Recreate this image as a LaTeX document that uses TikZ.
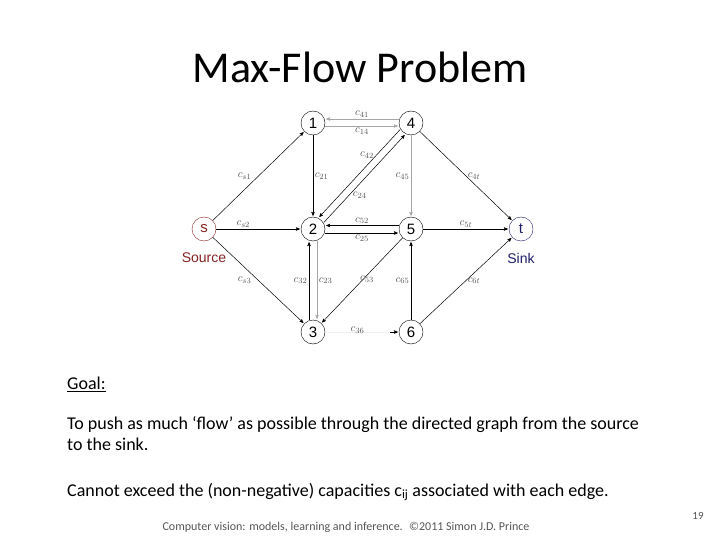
\documentclass[tikz,border=0pt]{standalone}
\usepackage{amsmath}
\usepackage{fontspec}
\setmainfont{Carlito}
\newfontfamily\arialfont{Liberation Sans}
\usetikzlibrary{positioning, arrows}

\definecolor{srcred}{RGB}{135,35,35}
\definecolor{sinkblue}{RGB}{30,30,105}
\definecolor{lblgray}{RGB}{85,85,85}

\begin{document}
\begin{tikzpicture}[x=1pt, y=-1pt, >=stealth', shorten >=1pt, on grid,
    vtx/.style={circle, draw, thin, minimum size=24pt, inner sep=0pt, font=\arialfont\fontsize{15}{15}\selectfont},
    lbl/.style={text=lblgray, inner sep=1.5pt, font=\fontsize{11}{11}\selectfont},
    pale/.style={draw=black!35},
    every edge/.style={draw, line width=0.5pt}]
    \useasboundingbox (0,0) rectangle (720,540);

    \node (title) at (360,67) {\fontsize{44}{52}\selectfont Max-Flow Problem};

    % graph
    \node[vtx] (v2) at (313,229) {2};
    \node[vtx] (v1) [above=106pt of v2] {1};
    \node[vtx] (v3) [below=103pt of v2] {3};
    \node[vtx] (v5) [right=98pt of v2] {5};
    \node[vtx] (v4) [above=106pt of v5] {4};
    \node[vtx] (v6) [below=103pt of v5] {6};
    \node[vtx, draw=srcred, text=srcred] (vs) [left=109pt of v2] {s};
    \node[vtx, draw=sinkblue, text=sinkblue] (vt) [right=110pt of v5] {t};
    \node[text=srcred, font=\arialfont\fontsize{14}{14}\selectfont] (src) [below=29pt of vs] {Source};
    \node[text=sinkblue, font=\arialfont\fontsize{14}{14}\selectfont] (snk) [below=29pt of vt] {Sink};
    \coordinate (c36end) at ([xshift=-9pt]v6.west);

    \path[->]
    (vs) edge node[lbl, pos=.44, above left] {$c_{s1}$} (v1)
    (vs) edge node[lbl, pos=.32, above] {$c_{s2}$} (v2)
    (vs) edge node[lbl, pos=.44, below left] {$c_{s3}$} (v3)
    (v1) edge node[lbl, right] {$c_{21}$} (v2)
    (v4) edge[pale, transform canvas={yshift=4pt}] node[lbl, above] {$c_{41}$} (v1)
    (v1) edge[pale, transform canvas={yshift=-3pt}] node[lbl, below] {$c_{14}$} (v4)
    (v4) edge[transform canvas={shift={(-2.6pt,2.4pt)}}] node[lbl, pos=.29, left=1pt] {$c_{42}$} (v2)
    (v2) edge[transform canvas={shift={(2.6pt,-2.4pt)}}] node[lbl, pos=.31, right=2pt] {$c_{24}$} (v4)
    (v4) edge[pale] node[lbl, left] {$c_{45}$} (v5)
    (v4) edge node[lbl, right] {$c_{4t}$} (vt)
    (v5) edge[transform canvas={yshift=3.5pt}] node[lbl, above] {$c_{52}$} (v2)
    (v2) edge[transform canvas={yshift=-4pt}] node[lbl, below] {$c_{25}$} (v5)
    (v5) edge node[lbl, above] {$c_{5t}$} (vt)
    (v3) edge[transform canvas={xshift=-4pt}] node[lbl, left] {$c_{32}$} (v2)
    (v2) edge[pale, transform canvas={xshift=4pt}] node[lbl, right] {$c_{23}$} (v3)
    (v5) edge node[lbl, above right=-5pt] {$c_{53}$} (v3)
    (v3) edge[draw=black!6, -] node[lbl, above=-3pt] {$c_{36}$} (c36end)
    (c36end) edge (v6)
    (v6) edge node[lbl, left] {$c_{65}$} (v5)
    (v6) edge node[lbl, right] {$c_{6t}$} (vt);

    % text
    \node[anchor=base west, inner sep=0pt, font=\fontsize{18}{21}\selectfont] (goal) at (67,389) {\underline{Goal:}};
    \node[anchor=base west, inner sep=0pt, font=\fontsize{18}{21}\selectfont] (txta) at (67,429) {To push as much ‘flow’ as possible through the directed graph from the source};
    \node[anchor=base west, inner sep=0pt, font=\fontsize{18}{21}\selectfont] (txtb) at (67,450) {to the sink.};
    \node[anchor=base west, inner sep=0pt, font=\fontsize{18}{21}\selectfont] (txtc) at (67,496) {Cannot exceed the (non-negative) capacities c\textsubscript{ij} associated with each edge.};
    \node[text=lblgray, font=\fontsize{12}{12}\selectfont] (foot) at (346,527) {Computer vision: models, learning and inference. \ \textcopyright2011 Simon J.D. Prince};
    \node[text=lblgray, font=\fontsize{11}{11}\selectfont] (page) at (698,516) {19};
\end{tikzpicture}
\end{document}
